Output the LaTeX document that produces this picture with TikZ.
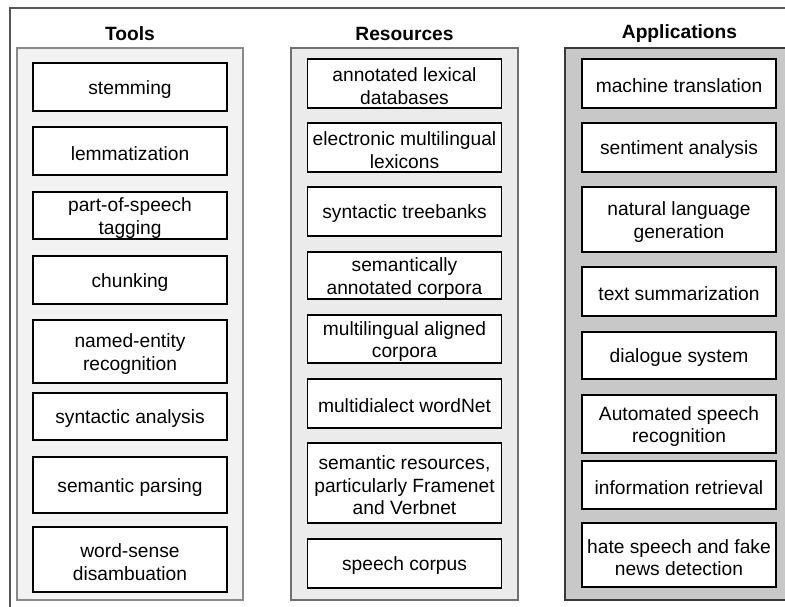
\documentclass[tikz,border=0pt]{standalone}
\usepackage{fontspec}
\setmainfont{Liberation Sans}
\definecolor{frame}{HTML}{555555}
\definecolor{toolfill}{HTML}{F2F2F2}
\definecolor{toolline}{HTML}{8A8A8A}
\definecolor{resfill}{HTML}{EBEBEB}
\definecolor{resline}{HTML}{707070}
\definecolor{appfill}{HTML}{C8C8C8}
\definecolor{appline}{HTML}{3A3A3A}
\tikzset{
  itembox/.style={draw=black, fill=white, line width=1.4pt, inner sep=0pt},
  itemtext/.style={inner sep=0pt, align=center, font=\fontsize{19.2}{22.4}\selectfont},
  coltitle/.style={inner sep=0pt, font=\fontsize{19.2}{22.4}\selectfont\bfseries},
  panel/.style={line width=1.5pt}
}
\newcommand{\itm}[5]{% name, cx, y1, y2, text
  \node[itembox, minimum width=194pt, minimum height={#4-#3}] (#1) at (#2,{(#3+#4)/2}) {};
  \node[itemtext] (#1-txt) at ([yshift=-2.5pt]#1.center) {#5};}
\begin{document}
\begin{tikzpicture}[x=1pt,y=-1pt]
\useasboundingbox (0,0) rectangle (785,607);
\clip (0,0) rectangle (785,607);
\fill[white] (0,0) rectangle (785,607);
% outer frame
\draw[frame, line width=2pt] (9.5,8.5) rectangle (820,640);
% panels
\draw[panel, draw=toolline, fill=toolfill] (17,48) rectangle (243,600);
\draw[panel, draw=resline, fill=resfill] (291,48) rectangle (518,600);
\draw[panel, draw=appline, fill=appfill] (565,48) rectangle (795,600);
% titles
\node[coltitle] (ttools) at (130,34) {Tools};
\node[coltitle] (tres) at (404.5,34) {Resources};
\node[coltitle] (tapp) at (679.5,34) {Applications};
% tools
\itm{t1}{130}{63}{111}{stemming}
\itm{t2}{130}{127}{175}{lemmatization}
\itm{t3}{130}{192}{239}{part-of-speech\\tagging}
\itm{t4}{130}{256}{304}{chunking}
\itm{t5}{130}{320}{383}{named-entity\\recognition}
\itm{t6}{130}{393}{440}{syntactic analysis}
\itm{t7}{130}{457}{513}{semantic parsing}
\itm{t8}{130}{527}{592}{word-sense\\disambuation}
% resources
\itm{r1}{404.5}{59}{108}{annotated lexical\\databases}
\itm{r2}{404.5}{123}{172}{electronic multilingual\\lexicons}
\itm{r3}{404.5}{187}{236}{syntactic treebanks}
\itm{r4}{404.5}{252}{299}{semantically\\annotated corpora}
\itm{r5}{404.5}{315}{363}{multilingual aligned\\corpora}
\itm{r6}{404.5}{379}{428}{multidialect wordNet}
\itm{r7}{404.5}{443}{523}{semantic resources,\\particularly Framenet\\and Verbnet}
\itm{r8}{404.5}{539}{588}{speech corpus}
% applications
\itm{a1}{679}{59}{108}{machine translation}
\itm{a2}{679}{123}{172}{sentiment analysis}
\itm{a3}{679}{187}{252}{natural language\\generation}
\itm{a4}{679}{267}{316}{text summarization}
\itm{a5}{679}{332}{379}{dialogue system}
\itm{a6}{679}{395}{453}{Automated speech\\recognition}
\itm{a7}{679}{461}{509}{information retrieval}
\itm{a8}{679}{523}{587}{hate speech and fake\\news detection}
\end{tikzpicture}
\end{document}
